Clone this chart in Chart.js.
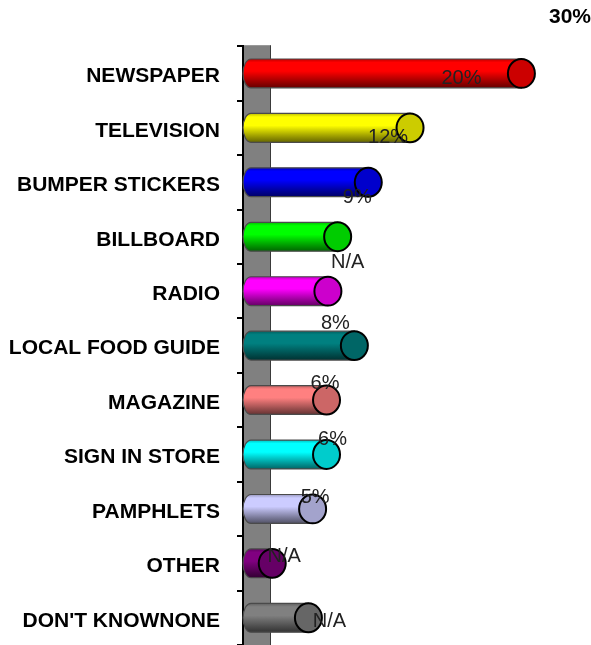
<!DOCTYPE html>
<html>
<head>
<meta charset="utf-8">
<script src="https://cdn.jsdelivr.net/npm/chart.js@4/dist/chart.umd.min.js"></script>
<style>
  html, body { margin: 0; padding: 0; background: #fff; }
  canvas { display: block; }
</style>
</head>
<body>
<canvas id="media" width="591" height="645"></canvas>
<script>
// where people heard about us, share of answers (%)
const categories = ['NEWSPAPER', 'TELEVISION', 'BUMPER STICKERS', 'BILLBOARD', 'RADIO',
  'LOCAL FOOD GUIDE', 'MAGAZINE', 'SIGN IN STORE', 'PAMPHLETS', 'OTHER', "DON'T KNOWNONE"];
const shares = [20, 12, 9, 6.8, 6.1, 8, 6, 6, 5, 2.1, 4.7];
const shareLabels = ['20%', '12%', '9%', 'N/A', '', '8%', '6%', '6%', '5%', 'N/A', 'N/A'];
const axisMaxLabel = '30%';

// cylinder colours, one per medium
const barColors = ['#ff0000', '#ffff00', '#0000ff', '#00ff00', '#ff00ff', '#008080',
  '#ff8080', '#00ffff', '#ccccff', '#800080', '#808080'];
// where each value label sits relative to the end of its cylinder
const labelNudge = [[-60, 5], [-22, 10], [-11, 15], [10, 26], [0, 0], [-19, -22],
  [-1.5, -17], [6, -14.5], [2.5, -11], [12, -6.5], [21, 4]];

function shade(hex, f) {
  const n = parseInt(hex.slice(1), 16);
  const r = Math.round(((n >> 16) & 255) * f);
  const g = Math.round(((n >> 8) & 255) * f);
  const b = Math.round((n & 255) * f);
  return `rgb(${r},${g},${b})`;
}

// grey side wall behind the cylinders
const wallPlugin = {
  id: 'wall',
  beforeDraw(chart) {
    const { ctx, chartArea } = chart;
    ctx.save();
    ctx.fillStyle = '#808080';
    ctx.fillRect(chartArea.left, chartArea.top - 1, 27, chartArea.bottom - chartArea.top + 1);
    ctx.strokeStyle = '#3a3a3a';
    ctx.lineWidth = 1;
    ctx.beginPath();
    ctx.moveTo(chartArea.left + 27.5, chartArea.top - 1);
    ctx.lineTo(chartArea.left + 27.5, chartArea.bottom);
    ctx.stroke();
    ctx.restore();
  }
};

// draws every bar element as a shaded cylinder with an end cap
const cylinderPlugin = {
  id: 'cylinders',
  afterDatasetsDraw(chart) {
    const ctx = chart.ctx;
    const meta = chart.getDatasetMeta(0);
    meta.data.forEach((bar, i) => {
      const { x, y, base, height } = bar.getProps(['x', 'y', 'base', 'height'], true);
      const col = barColors[i];
      const ry = height / 2;
      const rxBack = 8;
      const rxCap = 13.5;
      const top = y - ry;
      const bot = y + ry;

      ctx.save();
      const grad = ctx.createLinearGradient(0, top, 0, bot);
      grad.addColorStop(0, shade(col, 0.75));
      grad.addColorStop(0.12, col);
      grad.addColorStop(0.42, col);
      grad.addColorStop(0.8, shade(col, 0.6));
      grad.addColorStop(1, shade(col, 0.4));

      ctx.beginPath();
      ctx.moveTo(x, top);
      ctx.lineTo(base + rxBack, top);
      ctx.ellipse(base + rxBack, y, rxBack, ry, 0, -Math.PI / 2, Math.PI / 2, true);
      ctx.lineTo(x, bot);
      ctx.closePath();
      ctx.fillStyle = grad;
      ctx.fill();
      ctx.strokeStyle = '#4a4a4a';
      ctx.lineWidth = 1.2;
      ctx.stroke();

      ctx.beginPath();
      ctx.ellipse(x, y, rxCap, ry, 0, 0, Math.PI * 2);
      ctx.fillStyle = shade(col, 0.8);
      ctx.fill();
      ctx.strokeStyle = '#000';
      ctx.lineWidth = 2;
      ctx.stroke();
      ctx.restore();
    });
  }
};

const valueLabelPlugin = {
  id: 'valueLabels',
  afterDatasetsDraw(chart) {
    const ctx = chart.ctx;
    const meta = chart.getDatasetMeta(0);
    ctx.save();
    ctx.font = '20px "Liberation Sans", Arial, sans-serif';
    ctx.fillStyle = '#222';
    ctx.textAlign = 'center';
    ctx.textBaseline = 'middle';
    meta.data.forEach((bar, i) => {
      if (!shareLabels[i]) return;
      const [dx, dy] = labelNudge[i];
      ctx.fillText(shareLabels[i], bar.x + dx, bar.y + dy);
    });
    ctx.restore();
  }
};

new Chart(document.getElementById('media'), {
  type: 'bar',
  data: {
    labels: categories,
    datasets: [{
      data: shares,
      backgroundColor: 'rgba(0,0,0,0)',
      borderWidth: 0,
      barPercentage: 0.53,
      categoryPercentage: 1
    }]
  },
  options: {
    indexAxis: 'y',
    responsive: false,
    animation: false,
    layout: { padding: 0 },
    plugins: {
      legend: { display: false },
      tooltip: { enabled: false },
      title: {
        display: true,
        text: axisMaxLabel,
        align: 'end',
        color: '#000',
        font: { family: '"Liberation Sans", Arial, sans-serif', size: 21, weight: 'bold' },
        padding: { top: 5, bottom: 16 }
      }
    },
    scales: {
      x: { display: false, min: 0, max: 25 },
      y: {
        afterFit(scale) {
          scale.width = 243;
          // let the category bands run to the bottom edge
          scale.paddingTop = 0;
          scale.paddingBottom = 0;
        },
        ticks: {
          color: '#000',
          font: { family: '"Liberation Sans", Arial, sans-serif', size: 21, weight: 'bold' },
          padding: 17,
          labelOffset: 3
        },
        grid: { drawOnChartArea: false, tickLength: 6, color: '#000', lineWidth: 2 },
        border: { display: true, color: '#000', width: 2 }
      }
    }
  },
  plugins: [wallPlugin, cylinderPlugin, valueLabelPlugin]
});
</script>
</body>
</html>
